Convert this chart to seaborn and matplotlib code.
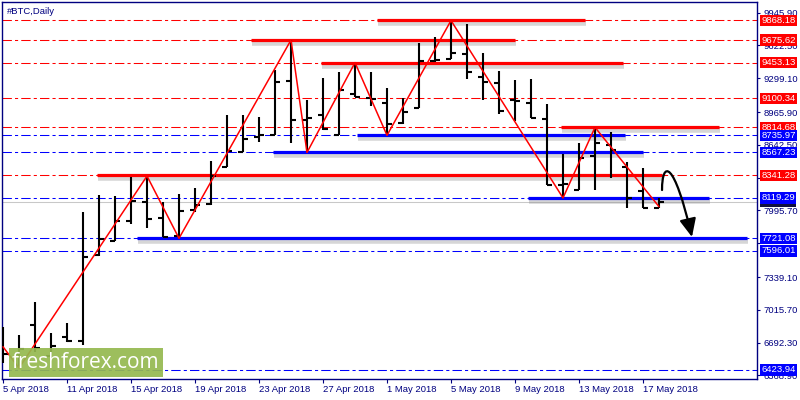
import numpy as np
import pandas as pd
import matplotlib
matplotlib.use("Agg")
import matplotlib.pyplot as plt
import matplotlib.transforms as mtransforms
from matplotlib.path import Path
from matplotlib.patches import FancyArrowPatch, Rectangle
import seaborn as sns

# daily OHLC bars, #BTC 5 Apr - 18 May 2018
opens = [6720, 6580, 6866, 6560, 6745, 6712, 7553, 7697, 7892, 8082,
         7918, 7744, 8000, 8056, 8424, 8569, 8717, 8739, 9272, 8887,
         8940, 8739, 9144, 9101, 9058, 8855, 9009, 9469, 9486, 9538,
         9314, 9249, 9084, 9058, 8894, 8247, 8197, 8532, 8641, 8424,
         8187, 8017]
highs = [6850, 6768, 7090, 6790, 6883, 7980, 8151, 8135, 8328, 8335,
         8082, 8161, 8214, 8483, 8937, 8937, 8914, 9380, 9676, 9084,
         9298, 9358, 9453, 9358, 9200, 9101, 9643, 9703, 9868, 9834,
         9545, 9370, 9282, 9291, 9042, 8552, 8658, 8815, 8772, 8473,
         8411, 8115]
lows = [6492, 6442, 6600, 6521, 6702, 6669, 7547, 7697, 7862, 7820,
        7731, 7721, 7983, 8049, 8424, 8569, 8667, 8739, 8664, 8567,
        8789, 8739, 9117, 9025, 8736, 8845, 9009, 9462, 9486, 9289,
        9084, 8946, 8880, 8910, 8247, 8119, 8197, 8197, 8319, 8017,
        8023, 8017]
closes = [6580, 6630, 6640, 6662, 6709, 7540, 7711, 7889, 8089, 7908,
          7734, 7993, 8049, 8335, 8582, 8697, 8739, 9259, 8887, 8910,
          8796, 9183, 9117, 9097, 8845, 8969, 9466, 9479, 9545, 9358,
          9265, 8979, 9078, 8910, 8247, 8260, 8516, 8658, 8592, 8115,
          8023, 8075]

tick_labels = ["5 Apr 2018", "11 Apr 2018", "15 Apr 2018", "19 Apr 2018",
               "23 Apr 2018", "27 Apr 2018", "1 May 2018", "5 May 2018",
               "9 May 2018", "13 May 2018", "17 May 2018"]
tick_bars = [0, 4, 8, 12, 16, 20, 24, 28, 32, 36, 40]

price_ticks = [9945.90, 9622.50, 9299.10, 8965.90, 8642.50, 8319.10,
               7995.70, 7672.30, 7339.10, 7015.70, 6692.30, 6368.90]
# these two sit fully under level labels in the chart
hidden_ticks = [8319.10, 7672.30]

zigzag_bars = [0, 1, 9, 11, 18, 19, 22, 24, 28, 35, 37, 41]
zigzag_prices = [6652, 6442, 8335, 7721, 9676, 8567, 9453, 8736, 9868, 8119, 8815, 8033]

red_levels = [9868.18, 9675.62, 9453.13, 9100.34, 8814.68, 8341.28]
blue_levels = [8735.97, 8567.23, 8119.29, 7721.08, 7596.01, 6423.94]

# thick level segments: (price, first bar, last bar)
red_segments = [(8341.28, 5.9, 41.2), (9675.62, 15.5, 32.0), (9868.18, 23.4, 36.4),
                (9453.13, 19.9, 38.75), (8814.68, 34.9, 44.75)]
blue_segments = [(8567.23, 16.9, 40.0), (8735.97, 22.1, 38.9),
                 (8119.29, 32.8, 44.1), (7721.08, 8.35, 46.5)]

bid_price = 8080.43

NAVY = "#000080"
RED = "#ff0000"
BLUE = "#0000ff"

sns.set_theme(style="white")
plt.rcParams["font.family"] = ["Liberation Sans", "DejaVu Sans"]

fig = plt.figure(figsize=(8, 4), dpi=100)
ax = fig.add_axes([2 / 800, 21 / 400, 755 / 800, 377 / 400])
ax.set_xlim(-0.0625, 47.125)
ax.set_ylim(6334.0, 10050.5)

# level lines across the whole chart (dash-dot)
for lvl in red_levels:
    ax.axhline(lvl, color=RED, lw=0.75, dashes=(9, 3, 3, 3), zorder=1)
for lvl in blue_levels:
    ax.axhline(lvl, color=BLUE, lw=0.75, dashes=(9, 3, 3, 3), zorder=1)
ax.axhline(bid_price, color="#c8c8c8", lw=0.75, zorder=1)

# thick segments with a soft shadow
shadow = mtransforms.offset_copy(ax.transData, fig=fig, x=1, y=-3, units="dots")
for segs, col in [(red_segments, RED), (blue_segments, BLUE)]:
    for price, b0, b1 in segs:
        ax.plot([b0, b1], [price, price], color="#8a8a8a", lw=4, alpha=0.35,
                transform=shadow, solid_capstyle="butt", zorder=2)
        ax.plot([b0, b1], [price, price], color=col, lw=2.3,
                solid_capstyle="butt", zorder=3)

# OHLC bars
idx = np.arange(len(opens))
ax.vlines(idx, lows, highs, color="black", lw=1.5, zorder=4)
ax.hlines(opens, idx - 0.32, idx, color="black", lw=1.5, zorder=4)
ax.hlines(closes, idx, idx + 0.32, color="black", lw=1.5, zorder=4)

# zigzag
zz = pd.DataFrame({"bar": zigzag_bars, "price": zigzag_prices})
sns.lineplot(data=zz, x="bar", y="price", color=RED, lw=1.1, ax=ax,
             estimator=None, sort=False, zorder=5)

# forecast arrow
verts = [(41.19, 8197), (41.19, 8493), (41.94, 8493), (43.06, 7734)]
codes = [Path.MOVETO, Path.CURVE4, Path.CURVE4, Path.CURVE4]
arrow = FancyArrowPatch(path=Path(verts, codes), arrowstyle="-|>,head_length=1.1,head_width=0.5",
                        mutation_scale=10, color="black", lw=1.6, transform=ax.transData, zorder=6)
ax.add_patch(arrow)

# axes styling
for sp in ax.spines.values():
    sp.set_color(NAVY)
    sp.set_linewidth(1.0)
ax.set_xlabel("")
ax.set_ylabel("")
ax.yaxis.tick_right()
ax.set_yticks(price_ticks)
ax.set_yticklabels(["" if p in hidden_ticks else f"{p:.2f}" for p in price_ticks])
ax.tick_params(axis="y", right=True, left=False, length=2.5, width=0.8, color=NAVY,
               labelcolor=NAVY, labelsize=6.8, pad=2)
ax.set_xticks(tick_bars)
ax.set_xticklabels(tick_labels)
ax.tick_params(axis="x", bottom=True, length=3, width=0.8, color=NAVY,
               labelcolor=NAVY, labelsize=6.8, pad=1.5)
for lbl in ax.get_xticklabels():
    lbl.set_ha("left")
ax.grid(False)

# price labels on the right axis
box_kw = dict(xycoords=("axes fraction", "data"), xytext=(3.0, 0), textcoords="offset points",
              ha="left", va="center", fontsize=6.8, color="white", annotation_clip=False)
ax.annotate(f"{bid_price:.2f}", xy=(1, bid_price), zorder=7,
            bbox=dict(boxstyle="square,pad=0.12", fc="#101040", ec="none"), **box_kw)
for lvl in red_levels:
    ax.annotate(f"{lvl:.2f}", xy=(1, lvl), zorder=8,
                bbox=dict(boxstyle="square,pad=0.12", fc=RED, ec="none"), **box_kw)
for lvl in blue_levels:
    ax.annotate(f"{lvl:.2f}", xy=(1, lvl), zorder=8,
                bbox=dict(boxstyle="square,pad=0.12", fc=BLUE, ec="none"), **box_kw)

fig.text(7 / 800, 1 - 11 / 400, "#BTC,Daily", color=NAVY, fontsize=6.8, va="center")

# watermark
fig.patches.append(Rectangle((9 / 800, 1 - 377 / 400), 154 / 800, 29 / 400,
                             transform=fig.transFigure, fc="#95b94f", ec="none", alpha=0.92))
fig.text(86 / 800, 1 - 362 / 400, "freshforex.com", color="white", fontsize=15,
         family=["Open Sans", "DejaVu Sans"], ha="center", va="center")

fig.savefig("out.png", dpi=100, facecolor="white")
